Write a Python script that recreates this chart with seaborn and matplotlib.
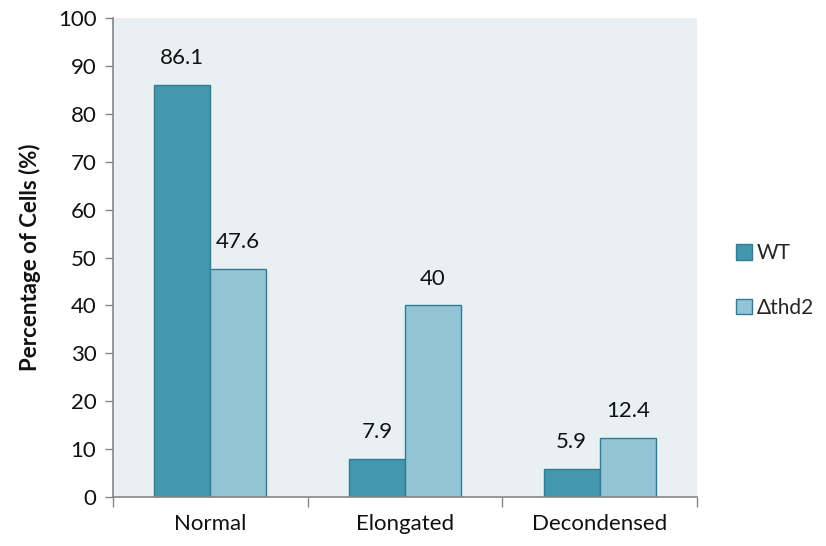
import matplotlib
matplotlib.use("Agg")
import matplotlib.pyplot as plt
import seaborn as sns
import pandas as pd
from matplotlib.ticker import FixedLocator

categories = ["Normal", "Elongated", "Decondensed"]
wt_values = [86.1, 7.9, 5.9]
thd2_values = [47.6, 40, 12.4]
series_names = ["WT", "\u0394thd2"]
y_ticks = list(range(0, 101, 10))

df = pd.DataFrame({
    "category": categories * 2,
    "value": wt_values + thd2_values,
    "strain": [series_names[0]] * 3 + [series_names[1]] * 3,
})

sns.set_theme(style="white")
plt.rcParams["font.family"] = ["Lato", "DejaVu Sans"]

fill_colors = ["#4397AE", "#93C4D6"]
edge_color = "#317C90"
fs = 16

fig = plt.figure(figsize=(8.26, 5.46), dpi=100)
ax = fig.add_axes([113 / 826, 1 - 497 / 546, (697 - 113) / 826, (497 - 18) / 546])
ax.set_facecolor("#E8F0F3")

sns.barplot(data=df, x="category", y="value", hue="strain", order=categories,
            hue_order=series_names, palette=fill_colors, width=0.575,
            edgecolor=edge_color, linewidth=1.0, saturation=1, ax=ax, legend=True)

for container in ax.containers:
    labels = [f"{v:g}" for v in container.datavalues]
    ax.bar_label(container, labels=labels, padding=12, fontsize=fs, color="#111111")

ax.set_ylim(0, 100)
ax.set_xlim(-0.5, 2.5)
ax.set_yticks(y_ticks)
ax.tick_params(axis="y", which="major", length=6, width=1, color="#868686",
               labelsize=fs, labelcolor="#111111", pad=6, direction="out", left=True)

# category boundaries carry the tick marks, centres carry the labels
ax.xaxis.set_major_locator(FixedLocator([-0.5, 0.5, 1.5, 2.5]))
ax.set_xticklabels([])
ax.xaxis.set_minor_locator(FixedLocator([0, 1, 2]))
ax.set_xticklabels(categories, minor=True)
ax.tick_params(axis="x", which="major", length=7, width=1, color="#868686",
               direction="out", bottom=True)
ax.tick_params(axis="x", which="minor", length=0, labelsize=fs,
               labelcolor="#111111", pad=12)

for side in ["top", "right"]:
    ax.spines[side].set_visible(False)
for side in ["left", "bottom"]:
    ax.spines[side].set_color("#868686")
    ax.spines[side].set_linewidth(1.2)

ax.set_xlabel("")
ax.set_ylabel("Percentage of Cells (%)", fontsize=fs, fontweight="bold",
              color="#111111", labelpad=12)

leg = ax.legend(loc="center left", bbox_to_anchor=(1.035, 0.452), frameon=False,
                fontsize=15, handlelength=0.75, handleheight=0.75,
                handletextpad=0.25, labelspacing=1.65)
for h in leg.legend_handles:
    h.set_edgecolor(edge_color)

fig.savefig("out.png", dpi=100)
